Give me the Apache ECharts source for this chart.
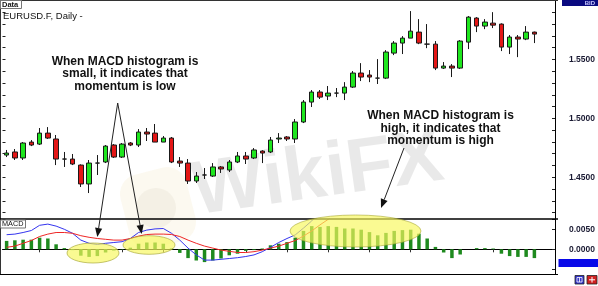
<!DOCTYPE html>
<html><head><meta charset="utf-8">
<script src="https://cdn.jsdelivr.net/npm/echarts@6/dist/echarts.min.js"></script>
<style>html,body{margin:0;padding:0;background:#fff}#c{width:598px;height:286px}</style>
</head><body><div id="c"></div>
<script>
const categories = ['1','2','3','4','5','6','7','8','9','10','11','12','13','14','15','16','17','18','19','20',
'21','22','23','24','25','26','27','28','29','30','31','32','33','34','35','36','37','38','39','40',
'41','42','43','44','45','46','47','48','49','50','51','52','53','54','55','56','57','58','59','60',
'61','62','63','64','65','66','67'];
const opens = [1.4689,1.4715,1.4664,1.4799,1.4782,1.4875,1.4825,1.4655,1.4655,1.4604,
1.4444,1.4621,1.4630,1.4774,1.4672,1.4791,1.4774,1.4884,1.4875,1.4799,
1.4833,1.4638,1.4621,1.4469,1.4520,1.4511,1.4588,1.4562,1.4630,1.4681,
1.4664,1.4723,1.4715,1.4825,1.4842,1.4825,1.4969,1.5138,1.5223,1.5189,
1.5214,1.5214,1.5265,1.5384,1.5367,1.5341,1.5341,1.5553,1.5638,1.5680,
1.5731,1.5629,1.5629,1.5426,1.5443,1.5426,1.5646,1.5850,1.5782,1.5807,
1.5799,1.5604,1.5689,1.5672,1.5731];
const closes = [1.4706,1.4664,1.4791,1.4774,1.4875,1.4833,1.4655,1.4655,1.4613,1.4444,
1.4621,1.4621,1.4765,1.4672,1.4782,1.4774,1.4884,1.4867,1.4799,1.4833,
1.4630,1.4621,1.4469,1.4511,1.4520,1.4588,1.4571,1.4630,1.4681,1.4655,
1.4732,1.4706,1.4816,1.4833,1.4825,1.4969,1.5138,1.5223,1.5180,1.5214,
1.5214,1.5265,1.5384,1.5350,1.5350,1.5341,1.5562,1.5638,1.5680,1.5739,
1.5638,1.5629,1.5426,1.5443,1.5426,1.5655,1.5858,1.5782,1.5816,1.5790,
1.5604,1.5689,1.5672,1.5731,1.5714];
const lows = [1.4672,1.4647,1.4647,1.4765,1.4774,1.4825,1.4604,1.4588,1.4604,1.4418,
1.4367,1.4520,1.4621,1.4664,1.4664,1.4765,1.4757,1.4808,1.4799,1.4799,
1.4621,1.4588,1.4444,1.4452,1.4486,1.4503,1.4537,1.4545,1.4621,1.4613,
1.4655,1.4621,1.4706,1.4791,1.4808,1.4791,1.4960,1.5096,1.5164,1.5155,
1.5180,1.5155,1.5257,1.5316,1.5307,1.5291,1.5333,1.5536,1.5545,1.5680,
1.5629,1.5595,1.5409,1.5418,1.5350,1.5418,1.5587,1.5731,1.5756,1.5765,
1.5570,1.5545,1.5519,1.5663,1.5638];
const highs = [1.4732,1.4740,1.4799,1.4816,1.4918,1.4926,1.4859,1.4715,1.4698,1.4610,
1.4647,1.4689,1.4774,1.4782,1.4791,1.4799,1.4909,1.4918,1.4952,1.4850,
1.4842,1.4672,1.4655,1.4545,1.4579,1.4621,1.4596,1.4647,1.4715,1.4715,
1.4748,1.4730,1.4842,1.4875,1.4850,1.4994,1.5155,1.5240,1.5240,1.5274,
1.5257,1.5307,1.5401,1.5468,1.5409,1.5502,1.5578,1.5655,1.5697,1.5909,
1.5841,1.5799,1.5655,1.5477,1.5460,1.5663,1.5867,1.5858,1.5841,1.5900,
1.5805,1.5706,1.5706,1.5782,1.5735];
const macdHist = [0.0021,0.00225,0.0024,0.0024,0.0029,0.0027,0.00125,0.0003,-0.0002,-0.0016,
-0.0019,-0.0017,-0.0008,-0.0003,-0.0001,0.0004,0.0014,0.0017,0.0017,0.0014,
0.0002,-0.0009,-0.0022,-0.0028,-0.0032,-0.0028,-0.0023,-0.0015,-0.0011,-0.0004,
-0.0002,0.0002,0.0010,0.0014,0.0018,0.0029,0.0046,0.0058,0.0056,0.0058,
0.0056,0.0052,0.0052,0.0049,0.0043,0.0035,0.0041,0.0046,0.0048,0.0049,
0.0039,0.0027,0.0006,-0.0008,-0.0022,-0.0013,0,0.0003,0.0003,0.0002,
-0.0011,-0.0017,-0.0019,-0.0019,-0.0022];
const macdLine = [0.00365,0.0038,0.0042,0.0047,0.0060,0.0063,0.0058,0.0050,0.0040,0.0023,
0.0015,0.0012,0.0015,0.0017,0.0019,0.0027,0.0042,0.0048,0.0051,0.0052,
0.0040,0.0023,0.0003,-0.0014,-0.0027,-0.0027,-0.0025,-0.0023,-0.0021,-0.0018,
-0.0014,-0.0006,0.0005,0.0017,0.0027,0.0036,0.0053,0.0071,0.0092];
const signalLine = [0.0005,0.0008,0.0015,0.0022,0.0032,0.0038,0.0042,0.0042,0.0040,0.0034,
0.0030,0.0027,0.0025,0.0023,0.0023,0.0027,0.0033,0.0037,0.0038,0.0038,
0.0037,0.0032,0.0023,0.0015,0.0008,0.0003,-0.0002,-0.0005,-0.0008,-0.0008,
-0.0006,-0.0002,0.0003,0.0008,0.0015,0.0022,0.0033,0.0046,0.0061,0.0075,0.0092];
const priceLabels = [1.45, 1.50, 1.55];
const macdLabels = [0, 0.005];
const symbolTitle = 'EURUSD.F, Daily -';
const note1 = 'When MACD histogram is\nsmall, it indicates that\nmomentum is low';
const note2 = 'When MACD histogram is\nhigh, it indicates that\nmomentum is high';

const candleData = categories.map((c, i) => i < opens.length ? [opens[i], closes[i], lows[i], highs[i]] : '-');
const histData = categories.map((c, i) => i < macdHist.length ? macdHist[i] : '-');
const blueData = categories.map((c, i) => i < macdLine.length ? macdLine[i] : '-');
const redData = categories.map((c, i) => i < signalLine.length ? signalLine[i] : '-');

function arrow(x1, y1, x2, y2) {
  const dx = x2 - x1, dy = y2 - y1, L = Math.hypot(dx, dy), ux = dx / L, uy = dy / L;
  const hl = 9, hw = 3.6, bx = x2 - ux * hl, by = y2 - uy * hl;
  return [
    {type: 'line', z: 60, shape: {x1: x1, y1: y1, x2: bx, y2: by}, style: {stroke: '#222', lineWidth: 1}},
    {type: 'polygon', z: 60, shape: {points: [[x2, y2], [bx - uy * hw, by + ux * hw], [bx + uy * hw, by - ux * hw]]}, style: {fill: '#111'}}
  ];
}
function oval(cx, cy, rx, ry) {
  return {type: 'circle', z: 55, x: cx, y: cy, scaleY: ry / rx, shape: {cx: 0, cy: 0, r: rx},
    style: {fill: 'rgba(248,248,95,0.68)', stroke: '#a9a93a', lineWidth: 1, strokeNoScale: true}};
}
const near = (arr, v) => arr.some(p => Math.abs(p - v) < 1e-7);

const chart = echarts.init(document.getElementById('c'));
const FONT = '"Liberation Sans", Arial, sans-serif';
chart.setOption({
  animation: false,
  backgroundColor: '#fff',
  grid: [
    {left: 2.5, right: 40.5, top: 0, height: 219},
    {left: 2.5, right: 40.5, top: 219, height: 55}
  ],
  xAxis: [
    {gridIndex: 0, type: 'category', data: categories, boundaryGap: true,
      axisLine: {show: false}, axisTick: {show: false}, axisLabel: {show: false}, splitLine: {show: false}},
    {gridIndex: 1, type: 'category', data: categories, boundaryGap: true,
      axisLine: {show: true, lineStyle: {color: '#000', width: 1}},
      axisTick: {show: true, alignWithLabel: true, length: 3, interval: (i) => i % 5 === 4, lineStyle: {color: '#333'}},
      axisLabel: {show: false}, splitLine: {show: false}}
  ],
  yAxis: [
    {gridIndex: 0, type: 'value', position: 'right', min: 1.4147, max: 1.6003, splitNumber: 18,
      axisLine: {show: true, lineStyle: {color: '#000', width: 1}},
      axisTick: {show: true, inside: true, length: 3, lineStyle: {color: '#222'}},
      splitLine: {show: false},
      axisLabel: {margin: 14, fontSize: 8.5, fontWeight: 'bold', color: '#1a1a33', fontFamily: FONT,
        formatter: (v) => near(priceLabels, v) ? v.toFixed(4) : ''}},
    {gridIndex: 0, type: 'value', position: 'left', min: 1.4147, max: 1.6003, splitNumber: 18,
      axisLine: {show: false}, axisTick: {show: true, inside: true, length: 3, lineStyle: {color: '#222'}},
      splitLine: {show: false}, axisLabel: {show: false}},
    {gridIndex: 1, type: 'value', position: 'right', min: -0.006175, max: 0.007575, splitNumber: 2,
      axisLine: {show: true, lineStyle: {color: '#000', width: 1}},
      axisTick: {show: true, inside: true, length: 3, lineStyle: {color: '#222'}},
      splitLine: {show: false},
      axisLabel: {margin: 14, fontSize: 8.5, fontWeight: 'bold', color: '#1a1a33', fontFamily: FONT,
        formatter: (v) => near(macdLabels, v) ? Math.abs(v).toFixed(4) : ''}}
  ],
  series: [
    {type: 'candlestick', xAxisIndex: 0, yAxisIndex: 0, data: candleData, barWidth: 5,
      itemStyle: {color: '#1ee61e', color0: '#e41616', borderColor: '#1a1a1a', borderColor0: '#1a1a1a', borderWidth: 1}},
    {type: 'bar', xAxisIndex: 1, yAxisIndex: 2, data: histData, barWidth: 3.5,
      itemStyle: {color: '#1e8a1e'}},
    {type: 'line', xAxisIndex: 1, yAxisIndex: 2, data: blueData, symbol: 'none', clip: true,
      lineStyle: {color: '#3434ee', width: 1}},
    {type: 'line', xAxisIndex: 1, yAxisIndex: 2, data: redData, symbol: 'none', clip: true,
      lineStyle: {color: '#ee2626', width: 1}}
  ],
  graphic: {elements: [
    // watermark
    {type: 'rect', z: 0, x: 158, y: 208, rotation: 0.25, shape: {x: -34, y: -38, width: 68, height: 76, r: 20},
      style: {fill: 'rgba(235,212,140,0.13)'}},
    {type: 'circle', z: 0, x: 156, y: 208, shape: {cx: 0, cy: 0, r: 20}, style: {fill: 'rgba(190,180,160,0.12)'}},
    {type: 'text', z: 0, x: 318, y: 176, rotation: 0.14,
      style: {text: 'WikiFX', font: 'bold 76px ' + FONT, fill: 'rgba(0,0,0,0.085)', textAlign: 'center', textVerticalAlign: 'middle'}},
    // frame
    {type: 'line', z: 40, shape: {x1: 0, y1: 0.5, x2: 558, y2: 0.5}, style: {stroke: '#333', lineWidth: 1}},
    {type: 'line', z: 40, shape: {x1: 0.5, y1: 0, x2: 0.5, y2: 275}, style: {stroke: '#333', lineWidth: 1}},
    {type: 'line', z: 40, shape: {x1: 0, y1: 219, x2: 558, y2: 219}, style: {stroke: '#000', lineWidth: 1.5}},
    {type: 'line', z: 40, shape: {x1: 0, y1: 274.5, x2: 558, y2: 274.5}, style: {stroke: '#000', lineWidth: 1}},
    // labels
    {type: 'rect', z: 45, shape: {x: 0.5, y: 0.5, width: 21, height: 8}, style: {fill: '#fff', stroke: '#777', lineWidth: 1}},
    {type: 'text', z: 46, x: 2, y: 4.8, style: {text: 'Data', font: 'bold 7.5px ' + FONT, fill: '#111', textVerticalAlign: 'middle'}},
    {type: 'text', z: 46, x: 3, y: 16, style: {text: symbolTitle, font: '9.5px ' + FONT, fill: '#111', textVerticalAlign: 'middle'}},
    {type: 'rect', z: 45, shape: {x: 0.5, y: 220, width: 25, height: 8}, style: {fill: '#fff', stroke: '#777', lineWidth: 1}},
    {type: 'text', z: 46, x: 2, y: 224.3, style: {text: 'MACD', font: '7.3px ' + FONT, fill: '#111', textVerticalAlign: 'middle'}},
    {type: 'rect', z: 45, shape: {x: 562, y: 0, width: 36, height: 6}, style: {fill: '#0a0a80'}},
    {type: 'text', z: 46, x: 595, y: 3.3, style: {text: 'BID', font: 'bold 6px ' + FONT, fill: '#c8c8ff', textAlign: 'right', textVerticalAlign: 'middle'}},
    {type: 'rect', z: 45, shape: {x: 558.5, y: 259, width: 39.5, height: 8}, style: {fill: '#0808e8'}},
    {type: 'rect', z: 45, shape: {x: 575, y: 275.5, width: 9, height: 8.5}, style: {fill: '#3434c8', stroke: '#222', lineWidth: 0.8}},
    {type: 'rect', z: 46, shape: {x: 577, y: 277.5, width: 5, height: 4.5}, style: {fill: 'none', stroke: '#fff', lineWidth: 0.8}},
    {type: 'line', z: 46, shape: {x1: 579.5, y1: 277.5, x2: 579.5, y2: 282}, style: {stroke: '#fff', lineWidth: 0.8}},
    {type: 'rect', z: 45, shape: {x: 587, y: 275.5, width: 10, height: 8.5}, style: {fill: '#d02020', stroke: '#222', lineWidth: 0.8}},
    {type: 'line', z: 46, shape: {x1: 589, y1: 279.8, x2: 595, y2: 279.8}, style: {stroke: '#fff', lineWidth: 1}},
    {type: 'line', z: 46, shape: {x1: 592, y1: 277, x2: 592, y2: 282.5}, style: {stroke: '#fff', lineWidth: 1}},
    // highlight ovals
    oval(93, 253, 26, 10),
    oval(149, 245, 26, 9.3),
    oval(355.5, 231, 65.5, 16),
    // annotations
    ...arrow(117.7, 103, 97.3, 237),
    ...arrow(117.7, 103, 141.7, 234),
    ...arrow(404, 148, 381, 208),
    {type: 'text', z: 60, x: 125, y: 74, style: {text: note1, font: 'bold 12px ' + FONT, lineHeight: 12.3, fill: '#111', textAlign: 'center', textVerticalAlign: 'middle'}},
    {type: 'text', z: 60, x: 440.5, y: 128.5, style: {text: note2, font: 'bold 12px ' + FONT, lineHeight: 12.5, fill: '#111', textAlign: 'center', textVerticalAlign: 'middle'}}
  ]}
});
</script>
</body></html>
